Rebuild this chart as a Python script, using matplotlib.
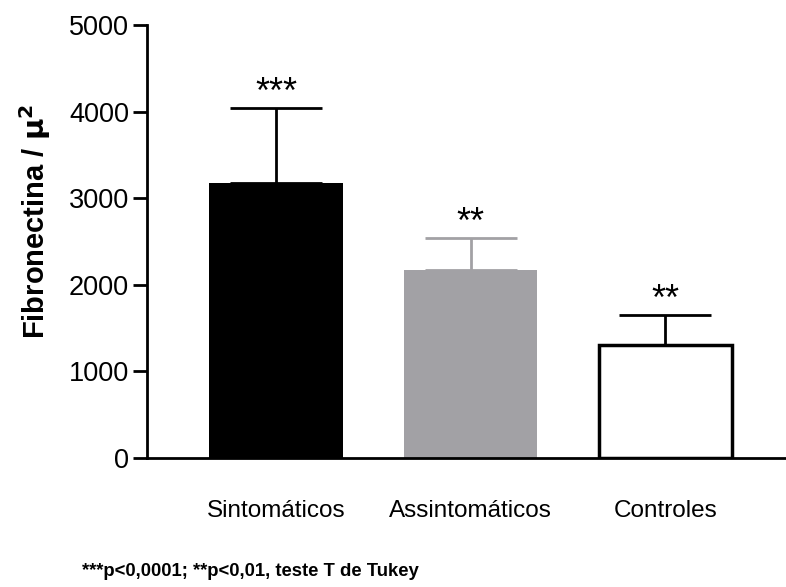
import numpy as np
import matplotlib
matplotlib.use("Agg")
import matplotlib.pyplot as plt

plt.rcParams['font.family'] = ['Liberation Sans', 'DejaVu Sans']

# data
grupos = ["Sintomáticos", "Assintomáticos", "Controles"]
medias = [3175, 2170, 1305]
erros = [865, 370, 345]
estrelas = ["***", "**", "**"]
cores = ["#000000", "#a2a1a5", "#ffffff"]
cores_erro = ["#000000", "#a2a1a5", "#000000"]

fig = plt.figure(figsize=(7.86, 5.87), dpi=100)
ax = fig.add_axes([0.187, 0.22, 0.813, 0.7375])

x = np.arange(len(grupos))
ax.bar(x, medias, width=0.684, color=cores, edgecolor=["#000000", "#a2a1a5", "#000000"],
       linewidth=[0, 0, 2.5], zorder=2)

for i in range(len(grupos)):
    ax.errorbar(x[i], medias[i], yerr=[[0], [erros[i]]], fmt="none",
                ecolor=cores_erro[i], elinewidth=2, capsize=33, capthick=2, zorder=1)
    ax.text(x[i], medias[i] + erros[i] - 35, estrelas[i], ha="center", va="bottom",
            fontsize=26)

ax.set_xlim(-0.663, 2.62)
ax.set_ylim(0, 5000)
ax.set_yticks([0, 1000, 2000, 3000, 4000, 5000])
ax.set_xticks(x)
ax.set_xticklabels(grupos, fontsize=17.5)
ax.tick_params(axis="x", length=0, pad=30)
ax.tick_params(axis="y", length=10, width=2, labelsize=19.5, pad=3)
ax.set_ylabel(r"Fibronectina / $\mathbf{\mu^2}$", fontsize=21, fontweight="bold")
ax.yaxis.set_label_coords(-0.147, 0.545)

ax.spines["top"].set_visible(False)
ax.spines["right"].set_visible(False)
ax.spines["left"].set_linewidth(2)
ax.spines["bottom"].set_linewidth(2)

fig.text(0.104, 0.012, "***p<0,0001; **p<0,01, teste T de Tukey", fontsize=13.3,
         fontweight="bold", ha="left", va="bottom")

fig.savefig("out.png", dpi=100)
